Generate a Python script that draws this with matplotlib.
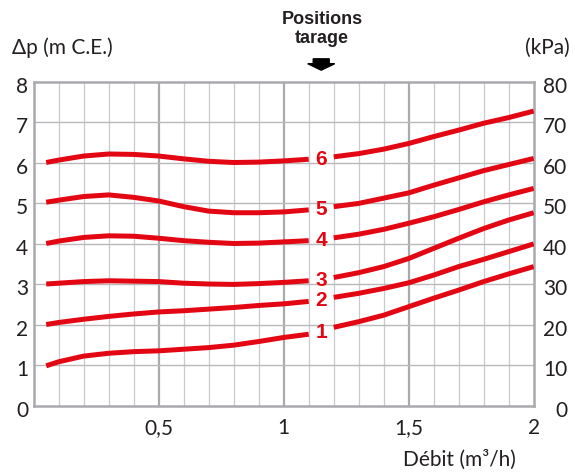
import numpy as np
import matplotlib.pyplot as plt
from matplotlib.patches import Polygon
from matplotlib.transforms import ScaledTranslation

# débit (m3/h) where the curves were read
debit = [0.05, 0.1, 0.2, 0.3, 0.4, 0.5, 0.6, 0.7, 0.8, 0.9, 1.0,
         1.1, 1.2, 1.3, 1.4, 1.5, 1.6, 1.7, 1.8, 1.9, 2.0]

# delta p (m C.E.) for each position of tarage
pos1 = [0.98, 1.08, 1.22, 1.29, 1.33, 1.35, 1.39, 1.43, 1.49, 1.58, 1.68,
        1.76, 1.93, 2.07, 2.23, 2.44, 2.65, 2.85, 3.06, 3.25, 3.43]
pos2 = [2.0, 2.05, 2.13, 2.2, 2.26, 2.31, 2.34, 2.38, 2.42, 2.47, 2.51,
        2.57, 2.67, 2.77, 2.89, 3.03, 3.22, 3.43, 3.61, 3.8, 3.99]
pos3 = [3.0, 3.02, 3.06, 3.08, 3.07, 3.06, 3.02, 3.0, 2.99, 3.01, 3.04,
        3.08, 3.16, 3.28, 3.43, 3.63, 3.88, 4.13, 4.37, 4.58, 4.76]
pos4 = [4.0, 4.06, 4.15, 4.19, 4.18, 4.13, 4.07, 4.03, 4.0, 4.01, 4.04,
        4.07, 4.14, 4.23, 4.35, 4.5, 4.66, 4.84, 5.03, 5.2, 5.36]
pos5 = [5.02, 5.07, 5.16, 5.2, 5.14, 5.05, 4.91, 4.8, 4.76, 4.76, 4.78,
        4.83, 4.91, 4.99, 5.12, 5.25, 5.44, 5.62, 5.8, 5.95, 6.1]
pos6 = [6.0, 6.06, 6.16, 6.21, 6.2, 6.16, 6.09, 6.03, 6.0, 6.01, 6.04,
        6.08, 6.14, 6.22, 6.33, 6.47, 6.64, 6.8, 6.97, 7.11, 7.27]
positions = [pos1, pos2, pos3, pos4, pos5, pos6]
pos_labels = ['1', '2', '3', '4', '5', '6']

xticks = [0.5, 1, 1.5, 2]
xticklabels = ['0,5', '1', '1,5', '2']
yticks = list(range(0, 9))
kpa_ticks = list(range(0, 90, 10))

label_x = 1.15
red = '#e30613'
dark = '#231f20'
fs = 15
plt.rcParams['font.family'] = ['Lato', 'DejaVu Sans']

fig = plt.figure(figsize=(5.75, 4.75), dpi=100)
ax = fig.add_axes([0.0586, 0.1463, 0.8696, 0.6821])
ax.set_xlim(0, 2)
ax.set_ylim(0, 8)

# grid
for xv in np.arange(1, 20) / 10:
    major = abs(xv * 2 - round(xv * 2)) < 1e-6
    ax.axvline(xv, color='#a9a9ae' if major else '#cacacd',
               lw=1.6 if major else 0.9, zorder=1)
for yv in yticks[1:-1]:
    ax.axhline(yv, color='#b9b9bc', lw=1.0, zorder=1)

for s in ax.spines.values():
    s.set_color('#a9a9ae')
    s.set_linewidth(1.8)
    s.set_zorder(2)

# curves, broken around the position number
x = np.array(debit)
left = x <= 1.1
right = x >= 1.2
for vals, lab in zip(positions, pos_labels):
    v = np.array(vals)
    ax.plot(x[left], v[left], color=red, lw=3.6, solid_capstyle='butt',
            solid_joinstyle='round', zorder=3)
    ax.plot(x[right], v[right], color=red, lw=3.6, solid_capstyle='butt',
            solid_joinstyle='round', zorder=3)
    ym = np.interp(label_x, x, v)
    ax.text(label_x, ym - 0.03, lab, color=red, fontsize=15, fontweight='bold',
            family='Liberation Sans', ha='center', va='center', zorder=4)

ax.set_xticks(xticks)
ax.set_xticklabels(xticklabels)
ax.set_yticks(yticks)
ax.tick_params(length=0, labelsize=fs, colors=dark)
ax.tick_params(axis='x', pad=9)
ax.tick_params(axis='y', pad=4)

ax2 = ax.twinx()
ax2.set_ylim(0, 80)
ax2.set_yticks(kpa_ticks)
ax2.tick_params(length=0, labelsize=fs, colors=dark, pad=24)
for s in ax2.spines.values():
    s.set_visible(False)
for t in ax2.get_yticklabels():
    t.set_horizontalalignment('right')

shift = ScaledTranslation(0, -3 / 100, fig.dpi_scale_trans)
for t in ax.get_yticklabels() + ax2.get_yticklabels():
    t.set_transform(t.get_transform() + shift)

# header texts
fig.text(12 / 575, 1 - 48 / 475, 'Δp (m C.E.)', fontsize=fs, color=dark,
         ha='left', va='center')
fig.text(570 / 575, 1 - 48 / 475, '(kPa)', fontsize=fs, color=dark,
         ha='right', va='center')
fig.text(322 / 575, 1 - 29 / 475, 'Positions\ntarage', fontsize=13,
         fontweight='bold', family='Liberation Sans', color=dark,
         ha='center', va='center', linespacing=1.1)
fig.text(516 / 575, 1 - 460 / 475, 'Débit (m³/h)', fontsize=fs, color=dark,
         ha='right', va='center')

# arrow pointing at the tarage positions
arrow = Polygon([(1.118, 8.56), (1.182, 8.56), (1.182, 8.44), (1.204, 8.44),
                 (1.15, 8.28), (1.096, 8.44), (1.118, 8.44)],
                closed=True, color='black', clip_on=False)
ax.add_patch(arrow)

fig.savefig('out.png', dpi=100)
